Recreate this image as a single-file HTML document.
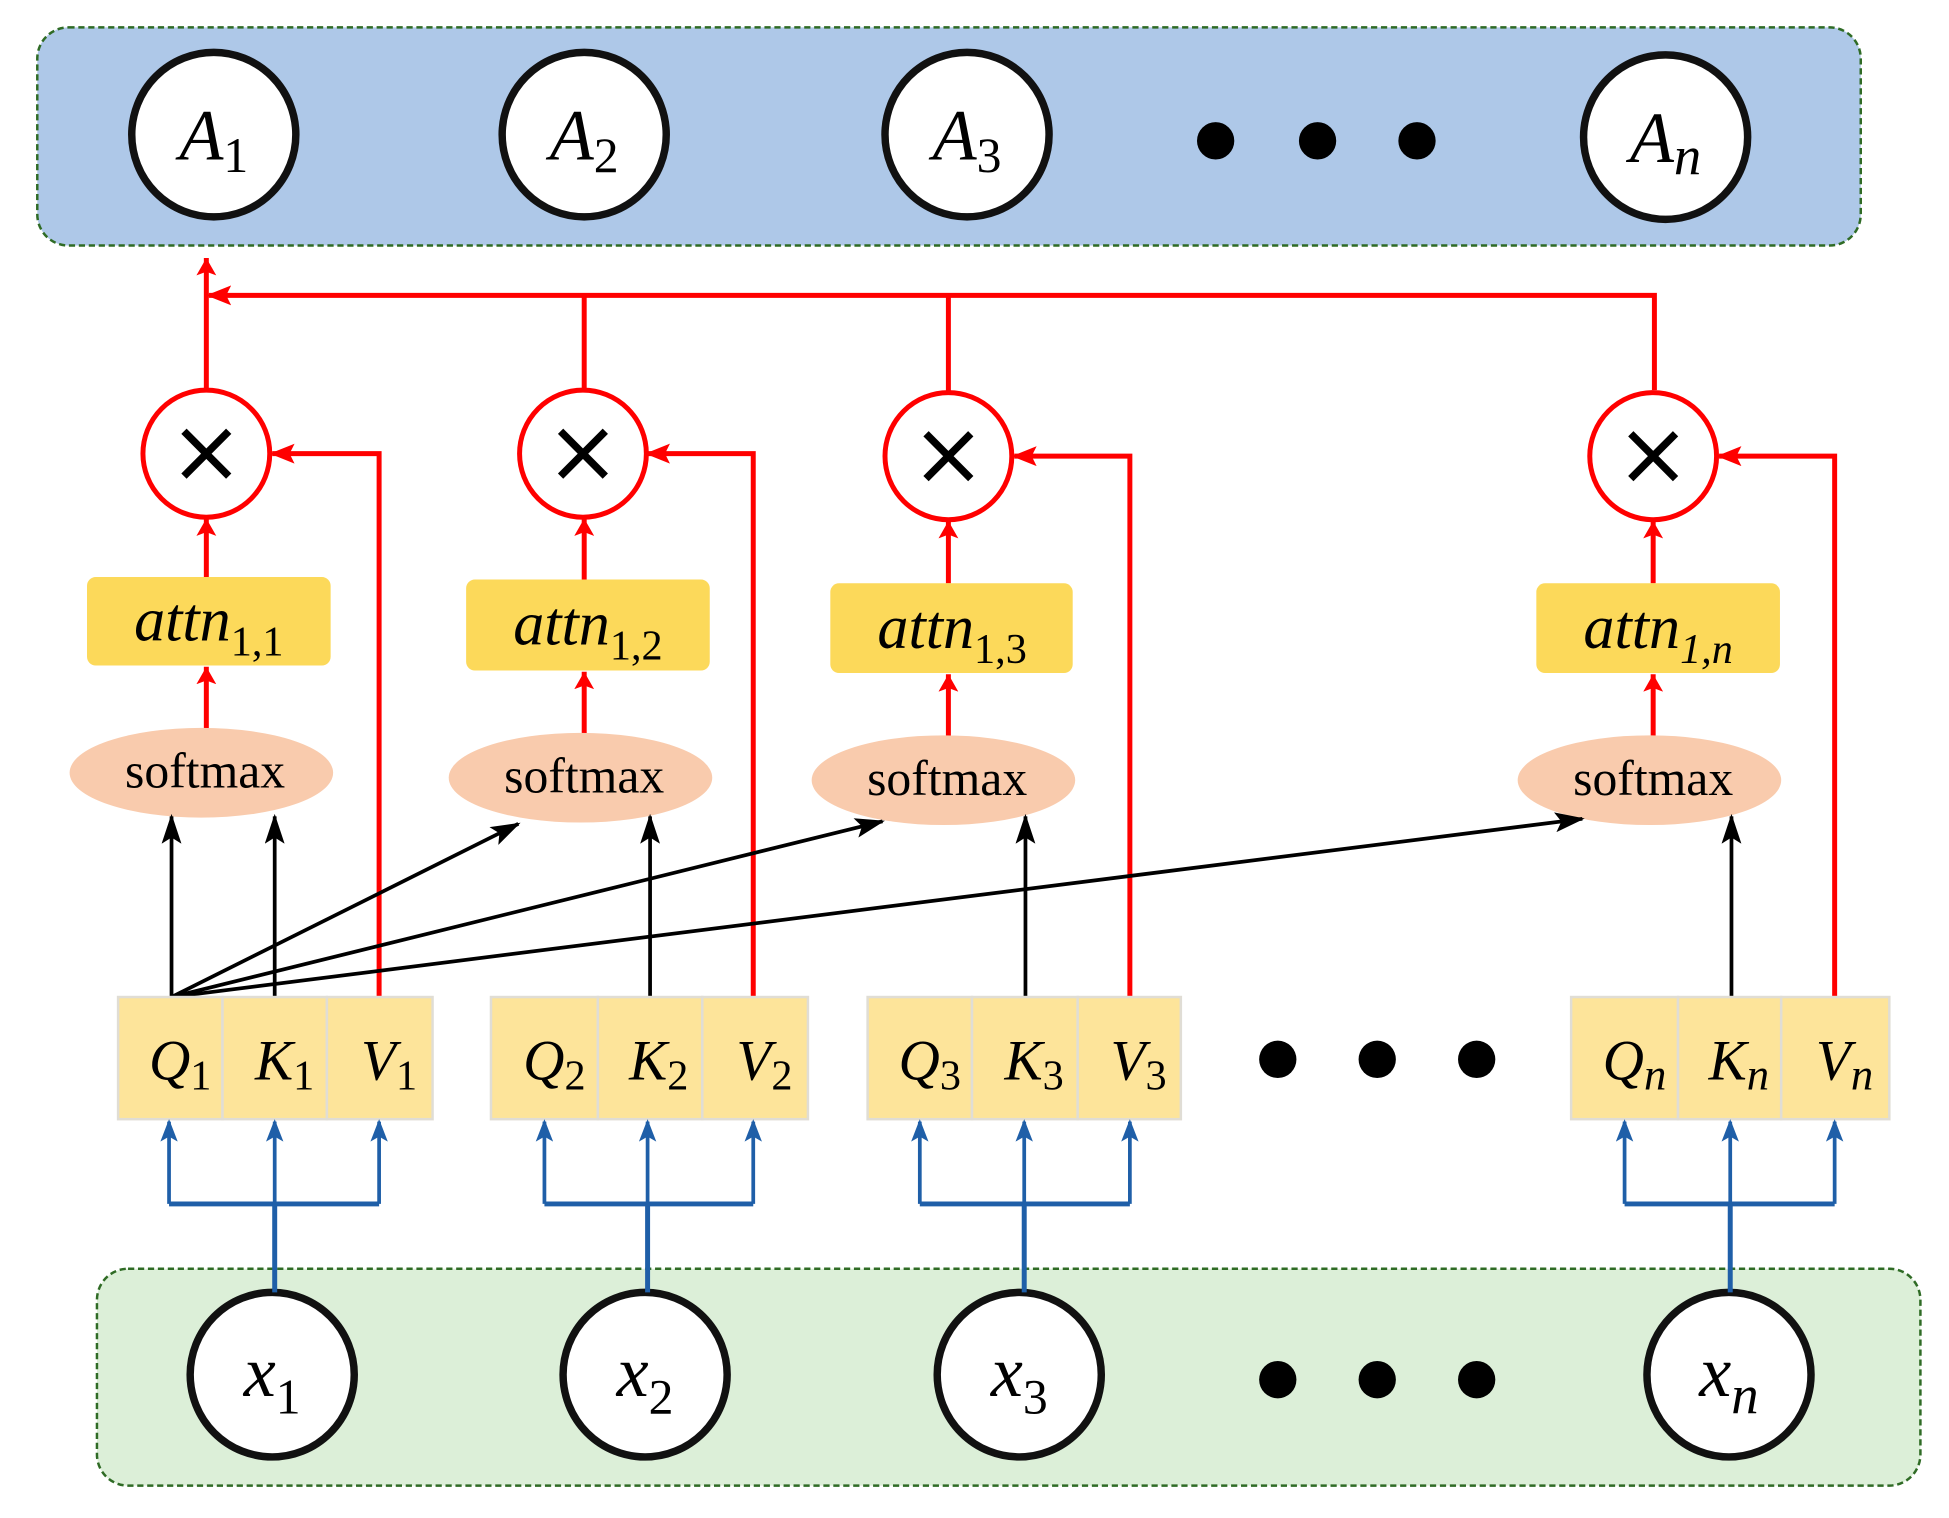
<!DOCTYPE html>
<html><head><meta charset="utf-8"><style>html,body{margin:0;padding:0;background:#fff}svg{display:block}</style></head><body>
<svg width="1949" height="1518" viewBox="0 0 1568 1218" preserveAspectRatio="none" xmlns="http://www.w3.org/2000/svg" font-family="Liberation Serif, serif">
<defs>
<marker id="r" markerWidth="14" markerHeight="16" refX="14" refY="8" orient="auto" markerUnits="userSpaceOnUse"><path d="M0,0 L14,8 L0,16 L3,8 z" fill="#f00"/></marker>
<marker id="k" markerWidth="24" markerHeight="16" refX="22" refY="8" orient="auto" markerUnits="userSpaceOnUse"><path d="M0,0 L24,8 L0,16 L5,8 z" fill="#000"/></marker>
<marker id="b" markerWidth="18" markerHeight="14" refX="16" refY="7" orient="auto" markerUnits="userSpaceOnUse"><path d="M0,0 L18,7 L0,14 L4,7 z" fill="#1f5fa8"/></marker>
<marker id="rr" markerWidth="20" markerHeight="16" refX="18" refY="8" orient="auto" markerUnits="userSpaceOnUse"><path d="M0,0 L20,8 L0,16 L4,8 z" fill="#f00"/></marker>
</defs>
<rect x="30" y="22" width="1467" height="175" rx="25" fill="#aec8e8" stroke="#2f6b25" stroke-width="2" stroke-dasharray="5,3"/>
<rect x="78" y="1018" width="1467" height="174" rx="25" fill="#dcefd8" stroke="#2f6b25" stroke-width="2" stroke-dasharray="5,3"/>
<g fill="#fff" stroke="#111" stroke-width="6">
<circle cx="172" cy="108" r="66"/><circle cx="470" cy="108" r="66"/><circle cx="778" cy="108" r="66"/><circle cx="1340" cy="110" r="66"/>
<circle cx="219" cy="1103" r="66"/><circle cx="519" cy="1103" r="66"/><circle cx="820" cy="1103" r="66"/><circle cx="1391" cy="1103" r="66"/>
</g>
<g fill="#000">
<circle cx="978" cy="113" r="15"/><circle cx="1060" cy="113" r="15"/><circle cx="1140" cy="113" r="15"/>
<circle cx="1028" cy="850" r="15"/><circle cx="1108" cy="850" r="15"/><circle cx="1188" cy="850" r="15"/>
<circle cx="1028" cy="1107" r="15"/><circle cx="1108" cy="1107" r="15"/><circle cx="1188" cy="1107" r="15"/>
</g>
<g font-style="italic" font-size="58" text-anchor="middle">
<text x="172" y="128">A<tspan font-size="40" font-style="normal" dy="10">1</tspan></text>
<text x="470" y="128">A<tspan font-size="40" font-style="normal" dy="10">2</tspan></text>
<text x="778" y="128">A<tspan font-size="40" font-style="normal" dy="10">3</tspan></text>
<text x="1340" y="130">A<tspan font-size="44" dy="10">n</tspan></text>
<text x="219" y="1120">x<tspan font-size="40" font-style="normal" dy="14">1</tspan></text>
<text x="519" y="1120">x<tspan font-size="40" font-style="normal" dy="14">2</tspan></text>
<text x="820" y="1120">x<tspan font-size="40" font-style="normal" dy="14">3</tspan></text>
<text x="1391" y="1120">x<tspan font-size="44" dy="14">n</tspan></text>
</g>
<g stroke="#f00" stroke-width="4" fill="none">
<line x1="166" y1="313" x2="166" y2="207" marker-end="url(#r)"/>
<polyline points="1331,313 1331,237 168,237" marker-end="url(#rr)"/>
<line x1="470" y1="313" x2="470" y2="237"/>
<line x1="763" y1="315" x2="763" y2="237"/>
<polyline points="305,800 305,364 219,364" marker-end="url(#rr)"/>
<polyline points="606,800 606,364 521,364" marker-end="url(#rr)"/>
<polyline points="909,800 909,366 816,366" marker-end="url(#rr)"/>
<polyline points="1476,800 1476,366 1383,366" marker-end="url(#rr)"/>
<line x1="166" y1="463" x2="166" y2="416" marker-end="url(#r)"/>
<line x1="470" y1="465" x2="470" y2="416" marker-end="url(#r)"/>
<line x1="763" y1="468" x2="763" y2="418" marker-end="url(#r)"/>
<line x1="1330" y1="468" x2="1330" y2="418" marker-end="url(#r)"/>
<line x1="166" y1="587" x2="166" y2="535" marker-end="url(#r)"/>
<line x1="470" y1="590" x2="470" y2="539" marker-end="url(#r)"/>
<line x1="763" y1="592" x2="763" y2="541" marker-end="url(#r)"/>
<line x1="1330" y1="592" x2="1330" y2="541" marker-end="url(#r)"/>
</g>
<g fill="#fff" stroke="#f00" stroke-width="4">
<circle cx="166" cy="364" r="51"/><circle cx="469" cy="364" r="51"/><circle cx="763" cy="366" r="51"/><circle cx="1330" cy="366" r="51"/>
</g>
<g stroke="#000" stroke-width="6">
<path d="M148,346 L184,382 M184,346 L148,382"/>
<path d="M451,346 L487,382 M487,346 L451,382"/>
<path d="M745,348 L781,384 M781,348 L745,384"/>
<path d="M1312,348 L1348,384 M1348,348 L1312,384"/>
</g>
<g fill="#fcd95a">
<rect x="70" y="463" width="196" height="71" rx="7"/>
<rect x="375" y="465" width="196" height="73" rx="7"/>
<rect x="668" y="468" width="195" height="72" rx="7"/>
<rect x="1236" y="468" width="196" height="72" rx="7"/>
</g>
<g font-style="italic" font-size="50" text-anchor="middle">
<text x="168" y="514">attn<tspan font-size="34" font-style="normal" dy="12">1,1</tspan></text>
<text x="473" y="517">attn<tspan font-size="34" font-style="normal" dy="12">1,2</tspan></text>
<text x="766" y="520">attn<tspan font-size="34" font-style="normal" dy="12">1,3</tspan></text>
<text x="1334" y="520">attn<tspan font-size="34" dy="12">1,n</tspan></text>
</g>
<g fill="#f9cbad">
<ellipse cx="162" cy="620" rx="106" ry="36"/><ellipse cx="467" cy="624" rx="106" ry="36"/><ellipse cx="759" cy="626" rx="106" ry="36"/><ellipse cx="1327" cy="626" rx="106" ry="36"/>
</g>
<g font-size="40" text-anchor="middle">
<text x="165" y="632">softmax</text><text x="470" y="636">softmax</text><text x="762" y="638">softmax</text><text x="1330" y="638">softmax</text>
</g>
<g stroke="#000" stroke-width="3" fill="none">
<line x1="138" y1="800" x2="138" y2="655" marker-end="url(#k)"/>
<line x1="221" y1="800" x2="221" y2="655" marker-end="url(#k)"/>
<line x1="523" y1="800" x2="523" y2="655" marker-end="url(#k)"/>
<line x1="825" y1="800" x2="825" y2="655" marker-end="url(#k)"/>
<line x1="1393" y1="800" x2="1393" y2="655" marker-end="url(#k)"/>
<line x1="138" y1="800" x2="417" y2="661" marker-end="url(#k)"/>
<line x1="138" y1="800" x2="710" y2="659" marker-end="url(#k)"/>
<line x1="138" y1="800" x2="1273" y2="657" marker-end="url(#k)"/>
</g>
<g fill="#fde49a" stroke="#e0ddd5" stroke-width="2">
<rect x="95" y="800" width="84" height="98"/><rect x="179" y="800" width="84" height="98"/><rect x="263" y="800" width="85" height="98"/>
<rect x="395" y="800" width="86" height="98"/><rect x="481" y="800" width="84" height="98"/><rect x="565" y="800" width="85" height="98"/>
<rect x="698" y="800" width="84" height="98"/><rect x="782" y="800" width="85" height="98"/><rect x="867" y="800" width="83" height="98"/>
<rect x="1264" y="800" width="86" height="98"/><rect x="1350" y="800" width="83" height="98"/><rect x="1433" y="800" width="87" height="98"/>
</g>
<g font-style="italic" font-size="46" text-anchor="middle">
<text x="145" y="866">Q<tspan font-size="34" font-style="normal" dy="8">1</tspan></text>
<text x="229" y="866">K<tspan font-size="34" font-style="normal" dy="8">1</tspan></text>
<text x="313" y="866">V<tspan font-size="34" font-style="normal" dy="8">1</tspan></text>
<text x="446" y="866">Q<tspan font-size="34" font-style="normal" dy="8">2</tspan></text>
<text x="530" y="866">K<tspan font-size="34" font-style="normal" dy="8">2</tspan></text>
<text x="615" y="866">V<tspan font-size="34" font-style="normal" dy="8">2</tspan></text>
<text x="748" y="866">Q<tspan font-size="34" font-style="normal" dy="8">3</tspan></text>
<text x="832" y="866">K<tspan font-size="34" font-style="normal" dy="8">3</tspan></text>
<text x="916" y="866">V<tspan font-size="34" font-style="normal" dy="8">3</tspan></text>
<text x="1315" y="866">Q<tspan font-size="36" dy="8">n</tspan></text>
<text x="1399" y="866">K<tspan font-size="36" dy="8">n</tspan></text>
<text x="1484" y="866">V<tspan font-size="36" dy="8">n</tspan></text>
</g>
<g stroke="#1f5fa8" stroke-width="4" fill="none">
<polyline points="136,966 305,966"/><polyline points="438,966 606,966"/><polyline points="740,966 909,966"/><polyline points="1307,966 1476,966"/>
<line x1="221" y1="1037" x2="221" y2="966"/><line x1="521" y1="1037" x2="521" y2="966"/><line x1="824" y1="1037" x2="824" y2="966"/><line x1="1392" y1="1037" x2="1392" y2="966"/>
</g>
<g stroke="#1f5fa8" stroke-width="3">
<line x1="136" y1="966" x2="136" y2="900" marker-end="url(#b)"/><line x1="221" y1="966" x2="221" y2="900" marker-end="url(#b)"/><line x1="305" y1="966" x2="305" y2="900" marker-end="url(#b)"/>
<line x1="438" y1="966" x2="438" y2="900" marker-end="url(#b)"/><line x1="521" y1="966" x2="521" y2="900" marker-end="url(#b)"/><line x1="606" y1="966" x2="606" y2="900" marker-end="url(#b)"/>
<line x1="740" y1="966" x2="740" y2="900" marker-end="url(#b)"/><line x1="824" y1="966" x2="824" y2="900" marker-end="url(#b)"/><line x1="909" y1="966" x2="909" y2="900" marker-end="url(#b)"/>
<line x1="1307" y1="966" x2="1307" y2="900" marker-end="url(#b)"/><line x1="1392" y1="966" x2="1392" y2="900" marker-end="url(#b)"/><line x1="1476" y1="966" x2="1476" y2="900" marker-end="url(#b)"/>
</g>
</svg>
</body></html>
